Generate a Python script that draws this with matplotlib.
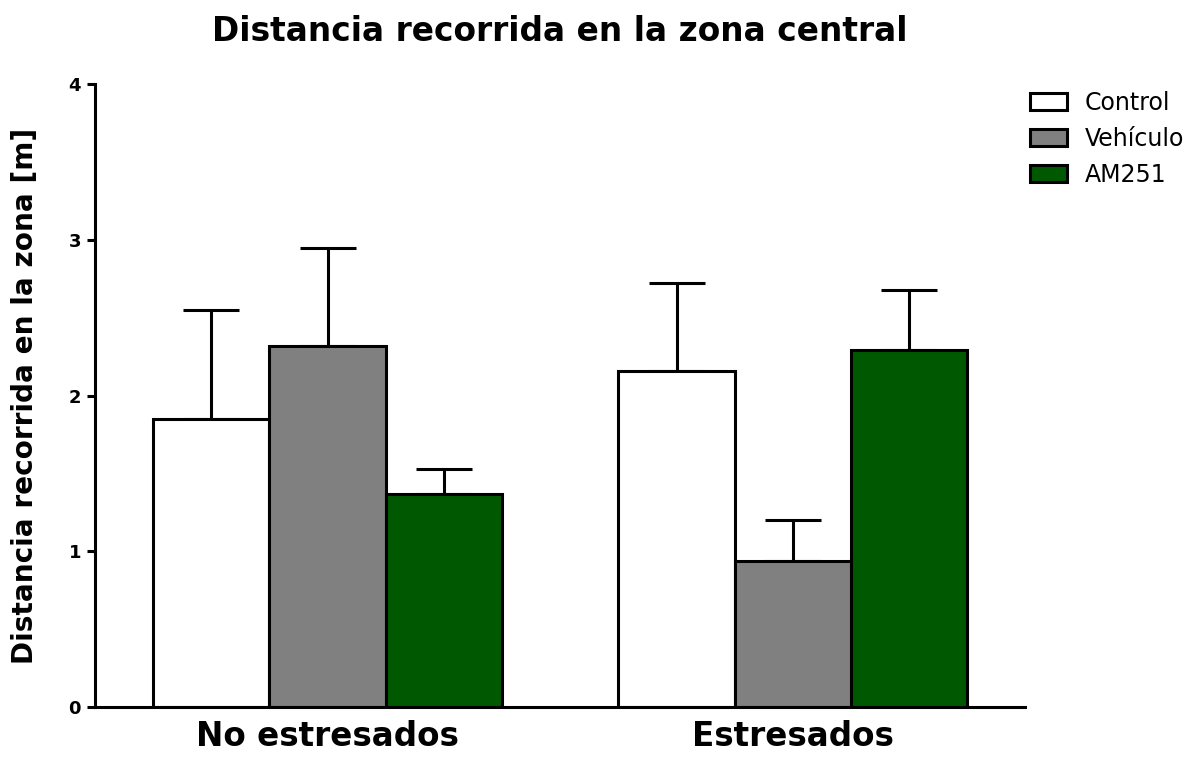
import numpy as np
import matplotlib.pyplot as plt
from matplotlib.patches import Patch

plt.rcParams['font.family'] = ['DejaVu Sans']

# ---------------- datos ----------------
grupos = ['No estresados', 'Estresados']
tratamientos = ['Control', 'Vehículo', 'AM251']
colores = ['#ffffff', '#808080', '#005800']

control = [1.85, 2.16]
vehiculo = [2.32, 0.94]
am251 = [1.37, 2.29]

err_control = [0.70, 0.56]
err_vehiculo = [0.63, 0.26]
err_am251 = [0.16, 0.39]

medias = [control, vehiculo, am251]
errores = [err_control, err_vehiculo, err_am251]

# ---------------- figura ----------------
fig = plt.figure(figsize=(11.92, 7.57), dpi=100)
ax = fig.add_axes([0.0797, 0.066, 0.7806, 0.823])

x = np.arange(len(grupos))
ancho = 0.25
for k in range(3):
    pos = x + (k - 1) * ancho
    ax.bar(pos, medias[k], ancho, color=colores[k], edgecolor='black',
           linewidth=2.2, zorder=2)
    # solo la barra de error superior
    ax.errorbar(pos, medias[k], yerr=[np.zeros(len(grupos)), errores[k]],
                fmt='none', ecolor='black', elinewidth=2.2, capsize=20.5,
                capthick=2.2, zorder=1)

ax.set_xlim(-0.5, 1.5)
ax.set_ylim(0, 4)
ax.set_yticks([0, 1, 2, 3, 4])
ax.set_xticks(x)
ax.set_xticklabels(grupos, fontsize=23.5, fontweight='bold')
for lab in ax.get_yticklabels():
    lab.set_fontweight('bold')
    lab.set_fontsize(13)

ax.spines['top'].set_visible(False)
ax.spines['right'].set_visible(False)
ax.spines['left'].set_linewidth(2.2)
ax.spines['bottom'].set_linewidth(2.2)
ax.tick_params(axis='y', length=6, width=2.2, pad=4)
ax.tick_params(axis='x', length=0, pad=9)

ax.set_ylabel('Distancia recorrida en la zona [m]', fontsize=20.1,
              fontweight='bold', labelpad=21)
ax.set_title('Distancia recorrida en la zona central', fontsize=23.7,
             fontweight='bold', pad=31)

handles = [Patch(facecolor=c, edgecolor='black', linewidth=2.2) for c in colores]
ax.legend(handles, tratamientos, loc='upper left',
          bbox_to_anchor=(1030 / 1192, 1 - 91 / 757), bbox_transform=fig.transFigure,
          frameon=False, fontsize=17, handlelength=1.55, handleheight=0.72,
          labelspacing=0.5, handletextpad=0.78, borderpad=0, borderaxespad=0)

plt.savefig('out.png', dpi=100)
